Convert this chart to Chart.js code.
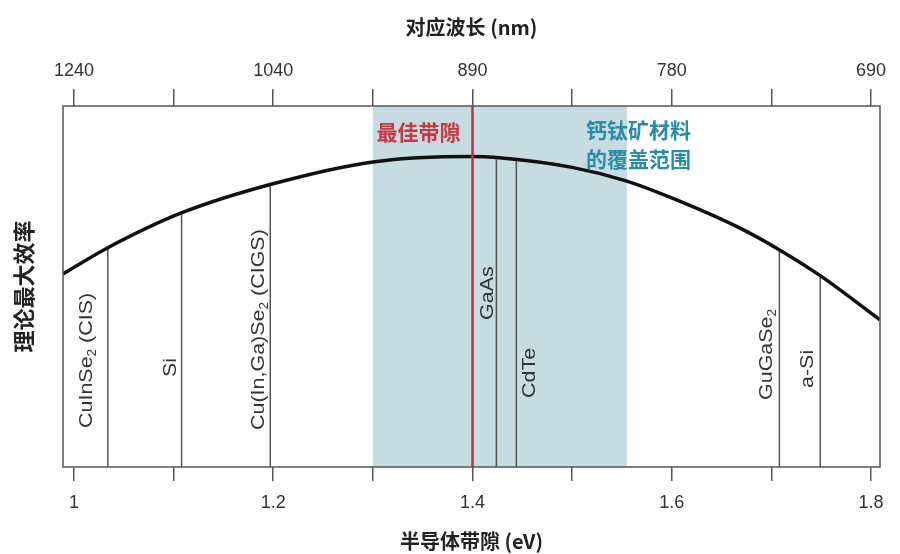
<!DOCTYPE html>
<html>
<head>
<meta charset="utf-8">
<title>理论最大效率与半导体带隙</title>
<script src="https://cdn.jsdelivr.net/npm/chart.js@4.4.1/dist/chart.umd.min.js"></script>
<style>
  html, body { margin: 0; padding: 0; background: #fff; }
  #wrap { width: 900px; height: 554px; }
</style>
</head>
<body>
<div id="wrap"><canvas id="effChart"></canvas></div>
<script>
// curve: band gap (eV) vs theoretical max efficiency (relative units)
const gapEv = [0.989, 1.034, 1.109, 1.197, 1.30, 1.40, 1.424, 1.50, 1.554, 1.598, 1.666, 1.709, 1.749, 1.809];
const maxEff = [21.4, 24.3, 28.2, 31.3, 33.8, 34.4, 34.3, 33.2, 31.7, 29.9, 26.6, 24.0, 21.2, 16.3];

// materials drawn as vertical lines up to the curve
const materials = ['CuInSe₂ (CIS)', 'Si', 'Cu(In,Ga)Se₂ (CIGS)', 'GaAs', 'CdTe', 'GuGaSe₂', 'a-Si'];
const materialGap = [1.034, 1.108, 1.197, 1.424, 1.444, 1.708, 1.749];
const materialTop = [24.3, 28.2, 31.1, 34.1, 33.9, 24.0, 21.2];

// axes
const evTicks = [1, 1.1, 1.2, 1.3, 1.4, 1.5, 1.6, 1.7, 1.8];
const labeledEv = [1, 1.2, 1.4, 1.6, 1.8];
const evLabels = ['1', '1.2', '1.4', '1.6', '1.8'];
const nmLabels = ['1240', '1040', '890', '780', '690'];

const bestGap = 1.40;
const perovskiteRange = [1.30, 1.555];

// label placement: offset of text baseline from its line, and where the text starts (px)
const labelLayout = [
  { dx: -16, y: 428 },
  { dx: -6, y: 377 },
  { dx: -6, y: 430 },
  { dx: -3, y: 320 },
  { dx: 19, y: 398 },
  { dx: -7, y: 400 },
  { dx: -7, y: 388 }
];

const latin = 'Liberation Sans, Arial, sans-serif';
const cjk = '"Noto Sans CJK SC", sans-serif';

function labelFor(list) {
  return function (value) {
    const i = labeledEv.findIndex(v => Math.abs(v - value) < 1e-6);
    return i >= 0 ? list[i] : '';
  };
}

function drawRotated(ctx, text, x, y) {
  ctx.save();
  ctx.translate(x, y);
  ctx.rotate(-Math.PI / 2);
  ctx.scale(1.13, 1);
  ctx.fillStyle = '#333';
  ctx.textAlign = 'left';
  ctx.textBaseline = 'alphabetic';
  let cx = 0;
  text.split('₂').forEach((part, i) => {
    if (i > 0) {
      ctx.font = '12px ' + latin;
      ctx.fillText('2', cx, 4);
      cx += ctx.measureText('2').width;
    }
    ctx.font = '19px ' + latin;
    ctx.fillText(part, cx, 0);
    cx += ctx.measureText(part).width;
  });
  ctx.restore();
}

const overlays = {
  id: 'overlays',
  beforeDatasetsDraw(chart) {
    const { ctx, chartArea: a, scales: { x } } = chart;
    const x0 = x.getPixelForValue(perovskiteRange[0]);
    const x1 = x.getPixelForValue(perovskiteRange[1]);
    ctx.save();
    ctx.fillStyle = '#c6dce2';
    ctx.fillRect(x0, a.top, x1 - x0, a.bottom - a.top);
    ctx.restore();
  },
  afterDatasetsDraw(chart) {
    const { ctx, chartArea: a, scales: { x } } = chart;
    const xr = x.getPixelForValue(bestGap);
    const x1 = x.getPixelForValue(perovskiteRange[1]);

    ctx.save();
    ctx.strokeStyle = '#d42a35';
    ctx.lineWidth = 2.5;
    ctx.beginPath();
    ctx.moveTo(xr, a.top);
    ctx.lineTo(xr, a.bottom);
    ctx.stroke();

    ctx.strokeStyle = '#555';
    ctx.lineWidth = 1.5;
    ctx.strokeRect(a.left, a.top, a.right - a.left, a.bottom - a.top);

    ctx.font = 'bold 21px ' + cjk;
    ctx.textBaseline = 'middle';
    ctx.fillStyle = '#c8393f';
    ctx.textAlign = 'right';
    ctx.fillText('最佳带隙', xr - 12, 132);

    ctx.fillStyle = '#2a8ca6';
    ctx.textAlign = 'left';
    ctx.fillText('钙钛矿材料', x1 - 41, 130);
    ctx.fillText('的覆盖范围', x1 - 41, 159);
    ctx.restore();

    materials.forEach((name, i) => {
      const px = x.getPixelForValue(materialGap[i]);
      drawRotated(ctx, name, px + labelLayout[i].dx, labelLayout[i].y);
    });
  }
};

const datasets = [{
  data: gapEv.map((v, i) => ({ x: v, y: maxEff[i] })),
  borderColor: '#111',
  borderWidth: 3.5,
  pointRadius: 0,
  cubicInterpolationMode: 'monotone'
}].concat(materials.map((name, i) => ({
  data: [{ x: materialGap[i], y: 0 }, { x: materialGap[i], y: materialTop[i] }],
  borderColor: '#555',
  borderWidth: 1.5,
  pointRadius: 0
})));

const tickGrid = len => ({
  drawOnChartArea: false,
  drawTicks: true,
  tickLength: len,
  color: '#555',
  lineWidth: 1.5
});

new Chart(document.getElementById('effChart'), {
  type: 'line',
  data: { datasets: datasets },
  options: {
    responsive: true,
    maintainAspectRatio: false,
    animation: false,
    layout: { padding: { right: 20 } },
    plugins: { legend: { display: false }, tooltip: { enabled: false } },
    scales: {
      x: {
        type: 'linear',
        position: 'bottom',
        min: 0.989,
        max: 1.809,
        afterBuildTicks: s => { s.ticks = evTicks.map(v => ({ value: v })); },
        afterFit: s => { s.height = 87; },
        ticks: {
          autoSkip: false,
          maxRotation: 0,
          padding: 11,
          color: '#333',
          font: { family: latin, size: 18 },
          callback: labelFor(evLabels)
        },
        grid: tickGrid(14),
        border: { display: false },
        title: {
          display: true,
          text: '半导体带隙 (eV)',
          color: '#222',
          font: { family: cjk, size: 20, weight: 'bold' },
          padding: { top: 0, bottom: 1 }
        }
      },
      xTop: {
        type: 'linear',
        position: 'top',
        min: 0.989,
        max: 1.809,
        afterBuildTicks: s => { s.ticks = evTicks.map(v => ({ value: v })); },
        afterFit: s => { s.height = 106; },
        ticks: {
          autoSkip: false,
          maxRotation: 0,
          padding: 7,
          color: '#333',
          font: { family: latin, size: 18 },
          callback: labelFor(nmLabels)
        },
        grid: tickGrid(17),
        border: { display: false },
        title: {
          display: true,
          text: '对应波长 (nm)',
          color: '#222',
          font: { family: cjk, size: 20, weight: 'bold' },
          padding: { top: 15, bottom: 0 }
        }
      },
      y: {
        min: 0,
        max: 40,
        afterFit: s => { s.width = 63; },
        ticks: { display: false },
        grid: { display: false },
        border: { display: false },
        title: {
          display: true,
          text: '理论最大效率',
          color: '#222',
          font: { family: cjk, size: 22, weight: 'bold' },
          padding: { top: 10, bottom: 0 }
        }
      }
    }
  },
  plugins: [overlays]
});
</script>
</body>
</html>
